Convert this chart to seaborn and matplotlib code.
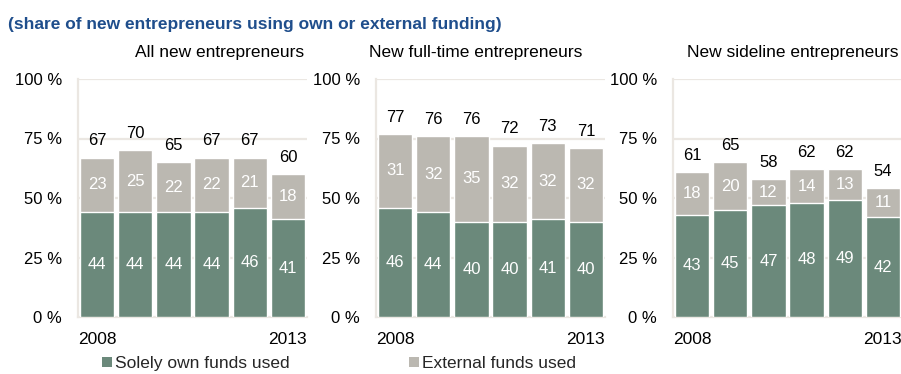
import matplotlib
matplotlib.use("Agg")
import matplotlib.pyplot as plt
from matplotlib.patches import Patch
import seaborn as sns
import pandas as pd
import numpy as np

# Funding shares, 2008-2013
years = ["2008", "2009", "2010", "2011", "2012", "2013"]
panel_titles = ["All new entrepreneurs", "New full-time entrepreneurs", "New sideline entrepreneurs"]

all_own = [44, 44, 44, 44, 46, 41]
all_ext = [23, 25, 22, 22, 21, 18]
all_total = [67, 70, 65, 67, 67, 60]

full_own = [46, 44, 40, 40, 41, 40]
full_ext = [31, 32, 35, 32, 32, 32]
full_total = [77, 76, 76, 72, 73, 71]

side_own = [43, 45, 47, 48, 49, 42]
side_ext = [18, 20, 12, 14, 13, 11]
side_total = [61, 65, 58, 62, 62, 54]

series_labels = ["Solely own funds used", "External funds used"]
y_ticks = [0, 25, 50, 75, 100]
y_tick_labels = ["0 %", "25 %", "50 %", "75 %", "100 %"]

GREEN = "#6b897b"
GRAY = "#bbb8b1"
GRID = "#ebe7e2"
TITLE_BLUE = "#1f4e8c"

sns.set_theme(style="white")
plt.rcParams["font.family"] = ["Liberation Sans", "DejaVu Sans"]

W, H = 901, 374
fig = plt.figure(figsize=(W / 100, H / 100), dpi=100)

panels = [
    (all_own, all_ext, all_total),
    (full_own, full_ext, full_total),
    (side_own, side_ext, side_total),
]
lefts = [78, 376, 673]
ax_w = 229
ax_top, ax_bottom = 79, 317

for i, (own, ext, total) in enumerate(panels):
    ax = fig.add_axes([lefts[i] / W, (H - ax_bottom) / H, ax_w / W, (ax_bottom - ax_top) / H])
    df = pd.DataFrame({"year": years, "own": own, "ext": ext, "total": total})

    ax.set_axisbelow(True)
    for yv in y_ticks[1:]:
        ax.axhline(yv, color=GRID, lw=1.6, zorder=0)

    # full stacked height in gray, own-funds part overlaid in green
    sns.barplot(data=df, x="year", y="total", color=GRAY, saturation=1,
                width=0.9, ax=ax, zorder=2)
    sns.barplot(data=df, x="year", y="own", color=GREEN, saturation=1,
                width=0.9, ax=ax, zorder=3)

    for j, row in df.iterrows():
        ax.text(j, row["own"] / 2, f"{row['own']}", ha="center", va="center",
                color="white", fontsize=12, zorder=4)
        ax.text(j, (row["own"] + row["total"]) / 2, f"{row['ext']}", ha="center",
                va="center", color="white", fontsize=12, zorder=4)
        ax.text(j, row["total"] + 7, f"{row['total']}", ha="center",
                va="center", color="black", fontsize=12, zorder=4)

    ax.set_xlim(-0.5, 5.5)
    ax.set_ylim(0, 100)
    ax.set_yticks(y_ticks)
    ax.set_yticklabels(y_tick_labels)
    ax.set_xticks(range(len(years)))
    ax.set_xticklabels([years[0], "", "", "", "", years[-1]])
    ax.set_xticks(np.arange(-0.5, 6, 1), minor=True)
    ax.tick_params(axis="y", length=0, pad=11.5, labelsize=12, labelcolor="black")
    ax.tick_params(axis="x", which="major", length=0, pad=11, labelsize=12.5, labelcolor="black")
    ax.tick_params(axis="x", which="minor", length=5, width=1.5, color=GRID, direction="out")
    ax.set_xlabel("")
    ax.set_ylabel("")
    for side in ["top", "right"]:
        ax.spines[side].set_visible(False)
    for side in ["left", "bottom"]:
        ax.spines[side].set_color(GRID)
        ax.spines[side].set_linewidth(1.6)
    ax.set_facecolor("white")

# panel headings
heading_x = [220, 476, 793]
for t, x in zip(panel_titles, heading_x):
    fig.text(x / W, 1 - 52 / H, t, ha="center", va="center", fontsize=12.5, color="black")

fig.text(8 / W, 1 - 25 / H,
         "(share of new entrepreneurs using own or external funding)",
         ha="left", va="center", fontsize=12.5, fontweight="bold", color=TITLE_BLUE)

handles = [Patch(facecolor=GREEN, edgecolor="none"), Patch(facecolor=GRAY, edgecolor="none")]
fig.legend(handles, series_labels, loc="upper left", bbox_to_anchor=(102 / W, 1 - 356 / H),
           ncol=2, frameon=False, fontsize=12.5, handlelength=0.55, handleheight=0.55,
           handletextpad=0.2, columnspacing=6.9, borderpad=0, borderaxespad=0)

fig.savefig("out.png", dpi=100)
